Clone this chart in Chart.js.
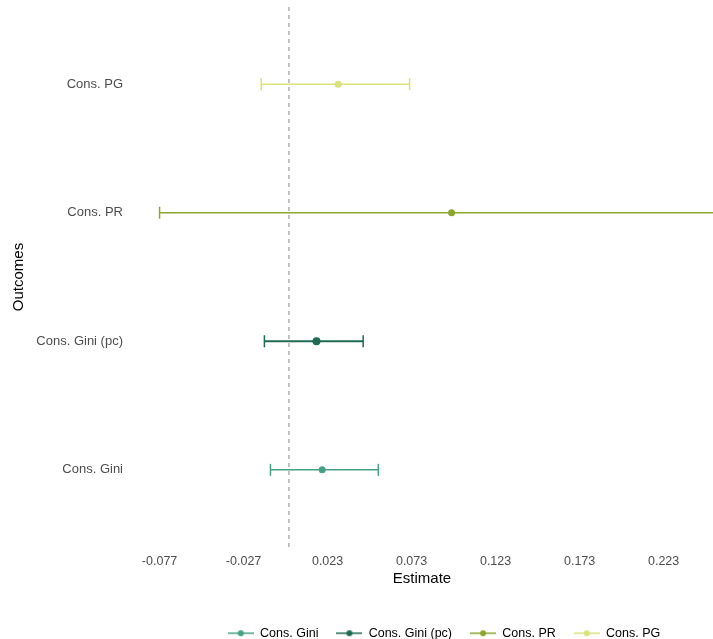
<!DOCTYPE html>
<html>
<head>
<meta charset="utf-8">
<script src="https://cdn.jsdelivr.net/npm/chart.js@4/dist/chart.umd.min.js"></script>
<style>
  body { margin: 0; background: #fff; }
  #wrap { width: 713px; height: 639px; }
</style>
</head>
<body>
<div id="wrap"><canvas id="grafico"></canvas></div>
<script>
// dados
const outcomes = ["Cons. Gini", "Cons. Gini (pc)", "Cons. PR", "Cons. PG"];
const estimates = [0.0198, 0.0164, 0.0968, 0.0293];
const lower = [-0.0110, -0.0146, -0.0770, -0.0165];
const upper = [0.0532, 0.0442, 0.2706, 0.0718];
const xTicks = [-0.077, -0.027, 0.023, 0.073, 0.123, 0.173, 0.223];
const colors = ["#46a084", "#1e6b51", "#8ca62f", "#d9e27c"];

Chart.defaults.font.family = '"Liberation Sans", Arial, sans-serif';

// ícone da legenda: linha com ponto
function legendIcon(color) {
  const c = document.createElement("canvas");
  c.width = 26;
  c.height = 10;
  const g = c.getContext("2d");
  g.strokeStyle = color;
  g.lineWidth = 1.5;
  g.beginPath();
  g.moveTo(0, 5);
  g.lineTo(26, 5);
  g.stroke();
  g.fillStyle = color;
  g.beginPath();
  g.arc(13, 5, 3, 0, Math.PI * 2);
  g.fill();
  return c;
}

// -------------------------
// Datasets
// -------------------------
const datasets = outcomes.map((nome, i) => ({
  label: nome,
  data: [
    { x: lower[i], y: i + 1 },
    { x: estimates[i], y: i + 1 },
    { x: upper[i], y: i + 1 }
  ],
  borderColor: colors[i],
  backgroundColor: colors[i],
  borderWidth: i === 1 ? 2 : 1.5,
  showLine: true,
  pointStyle: ctx => ctx.dataIndex === 1 ? "circle" : "line",
  pointRotation: ctx => ctx.dataIndex === 1 ? 0 : 90,
  pointRadius: ctx => ctx.dataIndex === 1 ? (i === 1 ? 4 : 3.5) : 6,
  pointBorderWidth: ctx => ctx.dataIndex === 1 ? 0 : 1.5,
  pointBorderColor: colors[i],
  pointBackgroundColor: colors[i]
}));

datasets.push({
  label: "zero",
  data: [{ x: 0, y: 0.4 }, { x: 0, y: 4.6 }],
  borderColor: "#8a8a8a",
  borderWidth: 1,
  borderDash: [4, 4],
  pointRadius: 0,
  showLine: true
});

// desloca a legenda para o centro do painel original
const moverLegenda = {
  id: "moverLegenda",
  afterLayout(chart) {
    chart.legend.left += 22;
    chart.legend.right += 22;
  }
};

new Chart(document.getElementById("grafico"), {
  type: "scatter",
  data: { datasets },
  plugins: [moverLegenda],
  options: {
    responsive: true,
    maintainAspectRatio: false,
    animation: false,
    layout: { autoPadding: false, padding: { top: 7, right: 0, bottom: 0, left: 0 } },
    plugins: {
      tooltip: { enabled: false },
      legend: {
        position: "bottom",
        fullSize: false,
        maxHeight: 30,
        labels: {
          usePointStyle: true,
          pointStyleWidth: 26,
          padding: 18,
          color: "#1a1a1a",
          font: { size: 12.5 },
          generateLabels: () => outcomes.map((nome, i) => ({
            text: nome,
            pointStyle: legendIcon(colors[i]),
            fillStyle: colors[i],
            strokeStyle: colors[i],
            lineWidth: 0,
            datasetIndex: i,
            hidden: false
          }))
        }
      }
    },
    scales: {
      x: {
        type: "linear",
        min: -0.094,
        max: 0.2524,
        grid: { display: false, drawTicks: false },
        border: { display: false },
        afterBuildTicks: axis => { axis.ticks = xTicks.map(v => ({ value: v })); },
        afterFit: axis => {
          axis.height = 62;
          axis.paddingLeft = 0;
          axis.paddingRight = 0;
        },
        ticks: {
          padding: 7,
          color: "#4d4d4d",
          font: { size: 12.5 },
          callback: v => v.toFixed(3)
        },
        title: {
          display: true,
          text: "Estimate",
          color: "#000",
          font: { size: 15 },
          padding: { top: 0, bottom: 21 }
        }
      },
      y: {
        type: "linear",
        min: 0.4,
        max: 4.6,
        grid: { display: false, drawTicks: false },
        border: { display: false },
        afterBuildTicks: axis => { axis.ticks = outcomes.map((_, i) => ({ value: i + 1 })); },
        afterFit: axis => {
          axis.width = 131;
          axis.paddingTop = 0;
          axis.paddingBottom = 0;
        },
        ticks: {
          padding: 8,
          color: "#4d4d4d",
          font: { size: 13 },
          callback: v => outcomes[Math.round(v) - 1]
        },
        title: {
          display: true,
          text: "Outcomes",
          color: "#000",
          font: { size: 15 },
          padding: { top: 10, bottom: 0 }
        }
      }
    }
  }
});
</script>
</body>
</html>
